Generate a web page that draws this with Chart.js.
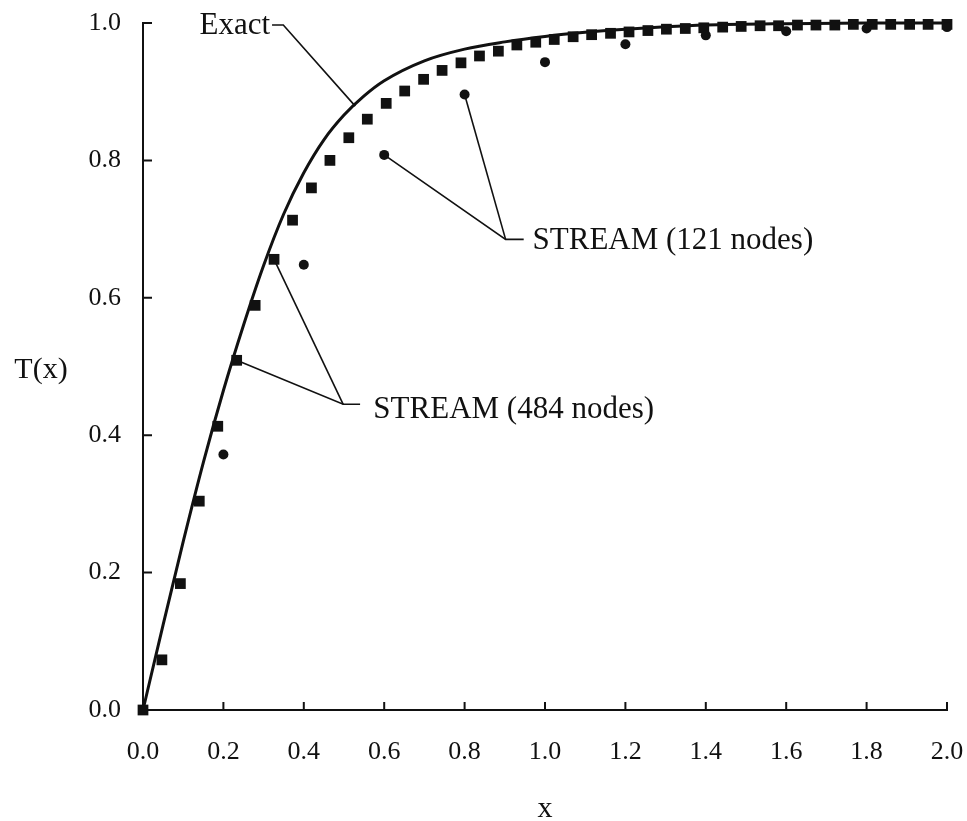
<!DOCTYPE html>
<html><head><meta charset="utf-8">
<script src="https://cdn.jsdelivr.net/npm/chart.js@4/dist/chart.umd.min.js"></script>
<style>html,body{margin:0;padding:0;background:#fff}#wrap{width:967px;height:821px}</style>
</head><body><div id="wrap"><canvas id="c" width="967" height="821"></canvas></div>
<script>
// ---- data ----
const exactX = [0, 0.05, 0.1, 0.15, 0.2, 0.25, 0.3, 0.35, 0.4, 0.45, 0.5, 0.55, 0.6, 0.7, 0.8, 0.9, 1.0, 1.1, 1.2, 1.3, 1.4, 1.6, 1.8, 2.0];
const exactY = [0, 0.124, 0.245, 0.36, 0.465, 0.56, 0.647, 0.722, 0.782, 0.83, 0.866, 0.894, 0.916, 0.945, 0.962, 0.9725, 0.9805, 0.9865, 0.991, 0.9945, 0.997, 0.999, 1.0, 1.0];

const stream484X = [0, 0.047, 0.093, 0.140, 0.186, 0.233, 0.279, 0.326, 0.372, 0.419, 0.465, 0.512, 0.558, 0.605, 0.651, 0.698, 0.744, 0.791, 0.837, 0.884, 0.930, 0.977, 1.023, 1.070, 1.116, 1.163, 1.209, 1.256, 1.302, 1.349, 1.395, 1.442, 1.488, 1.535, 1.581, 1.628, 1.674, 1.721, 1.767, 1.814, 1.860, 1.907, 1.953, 2.000];
const stream484Y = [0, 0.073, 0.184, 0.304, 0.413, 0.509, 0.589, 0.656, 0.713, 0.760, 0.800, 0.833, 0.860, 0.883, 0.901, 0.918, 0.931, 0.942, 0.952, 0.959, 0.968, 0.972, 0.976, 0.980, 0.983, 0.985, 0.987, 0.989, 0.991, 0.992, 0.993, 0.994, 0.995, 0.996, 0.996, 0.997, 0.997, 0.997, 0.998, 0.998, 0.998, 0.998, 0.998, 0.998];

const stream121X = [0, 0.2, 0.4, 0.6, 0.8, 1.0, 1.2, 1.4, 1.6, 1.8, 2.0];
const stream121Y = [0, 0.372, 0.648, 0.808, 0.896, 0.943, 0.969, 0.982, 0.988, 0.992, 0.994];

const xTickValues = [0, 0.2, 0.4, 0.6, 0.8, 1.0, 1.2, 1.4, 1.6, 1.8, 2.0];
const yTickValues = [0, 0.2, 0.4, 0.6, 0.8, 1.0];

const xTitle = 'x';
const yTitle = 'T(x)';
const labelExact = 'Exact';
const label484 = 'STREAM (484 nodes)';
const label121 = 'STREAM (121 nodes)';

// annotation anchors (in data units)
const exactNote = {text: labelExact, at: [0.316, 0.996], align: 'right', paths: [[[0.321, 0.997], [0.349, 0.997], [0.528, 0.879]]]};
const note121 = {text: label121, at: [0.969, 0.683], align: 'left', paths: [[[0.947, 0.685], [0.902, 0.685], [0.6, 0.808]], [[0.902, 0.685], [0.8, 0.896]]]};
const note484 = {text: label484, at: [0.573, 0.437], align: 'left', paths: [[[0.540, 0.445], [0.498, 0.445], [0.233, 0.509]], [[0.498, 0.445], [0.326, 0.656]]]};
const notes = [exactNote, note121, note484];

const FONT = "'Liberation Serif', 'Times New Roman', serif";
const INK = '#111';

const toPts = (xs, ys) => xs.map((x, i) => ({x, y: ys[i]}));

const innerTicks = {
  id: 'innerTicks',
  afterDraw(chart) {
    const {ctx, chartArea: ca, scales: {x, y}} = chart;
    ctx.save();
    ctx.strokeStyle = INK; ctx.lineWidth = 2;
    ctx.beginPath();
    x.ticks.forEach(t => { if (t.value === 0) return; const px = x.getPixelForValue(t.value); ctx.moveTo(px, ca.bottom); ctx.lineTo(px, ca.bottom - 8); });
    y.ticks.forEach(t => { if (t.value === 0) return; const py = y.getPixelForValue(t.value); ctx.moveTo(ca.left, py); ctx.lineTo(ca.left + 9, py); });
    ctx.stroke();
    ctx.restore();
  }
};

const notesPlugin = {
  id: 'notes',
  beforeDatasetsDraw(chart) {
    const {ctx, scales: {x, y}} = chart;
    ctx.save();
    ctx.strokeStyle = INK; ctx.lineWidth = 1.6; ctx.lineJoin = 'miter';
    notes.forEach(n => n.paths.forEach(p => {
      ctx.beginPath();
      p.forEach((pt, i) => {
        const px = x.getPixelForValue(pt[0]), py = y.getPixelForValue(pt[1]);
        if (i === 0) ctx.moveTo(px, py); else ctx.lineTo(px, py);
      });
      ctx.stroke();
    }));
    ctx.restore();
  },
  afterDraw(chart) {
    const {ctx, scales: {x, y}} = chart;
    ctx.save();
    ctx.fillStyle = INK;
    ctx.font = "31px " + FONT;
    ctx.textBaseline = 'middle';
    notes.forEach(n => {
      ctx.textAlign = n.align;
      ctx.fillText(n.text, x.getPixelForValue(n.at[0]), y.getPixelForValue(n.at[1]));
    });
    // horizontal y-axis title
    ctx.font = "30px " + FONT;
    ctx.textAlign = 'center';
    ctx.fillText(yTitle, 41, y.getPixelForValue(0.495));
    ctx.restore();
  }
};

new Chart(document.getElementById('c'), {
  type: 'scatter',
  data: {
    datasets: [
      {label: label121, data: toPts(stream121X, stream121Y), pointStyle: 'circle', pointRadius: 5, pointHoverRadius: 5,
       backgroundColor: INK, borderColor: INK, borderWidth: 0, showLine: false, clip: false, order: 1},
      {label: label484, data: toPts(stream484X, stream484Y), pointStyle: 'rect', pointRadius: 7.6, pointHoverRadius: 7.6,
       backgroundColor: INK, borderColor: INK, borderWidth: 0, showLine: false, clip: false, order: 2},
      {label: labelExact, data: toPts(exactX, exactY), showLine: true, pointRadius: 0, borderColor: INK, borderWidth: 3,
       cubicInterpolationMode: 'monotone', fill: false, clip: false, order: 3}
    ]
  },
  options: {
    responsive: false,
    animation: false,
    devicePixelRatio: 1,
    layout: {padding: {left: 0, right: 20, top: 23, bottom: 0}},
    plugins: {legend: {display: false}, tooltip: {enabled: false}},
    scales: {
      x: {
        type: 'linear', min: 0, max: 2,
        afterBuildTicks: s => { s.ticks = xTickValues.map(v => ({value: v})); },
        afterFit: s => { s.height = 111; s.paddingLeft = 0; s.paddingRight = 0; },
        ticks: {callback: v => v.toFixed(1), color: INK, font: {family: FONT, size: 26}, padding: 27, maxRotation: 0, autoSkip: false},
        grid: {display: true, drawOnChartArea: false, drawTicks: false},
        border: {display: true, color: INK, width: 2},
        title: {display: true, text: xTitle, color: INK, font: {family: FONT, size: 30, lineHeight: 1}, padding: {top: 0, bottom: -3}}
      },
      y: {
        type: 'linear', min: 0, max: 1,
        afterBuildTicks: s => { s.ticks = yTickValues.map(v => ({value: v})); },
        afterFit: s => { s.width = 143; s.paddingTop = 0; s.paddingBottom = 0; },
        ticks: {callback: v => v.toFixed(1), color: INK, font: {family: FONT, size: 26}, padding: 22, autoSkip: false},
        grid: {display: true, drawOnChartArea: false, drawTicks: false},
        border: {display: true, color: INK, width: 2}
      }
    }
  },
  plugins: [innerTicks, notesPlugin]
});
</script>
</body></html>
